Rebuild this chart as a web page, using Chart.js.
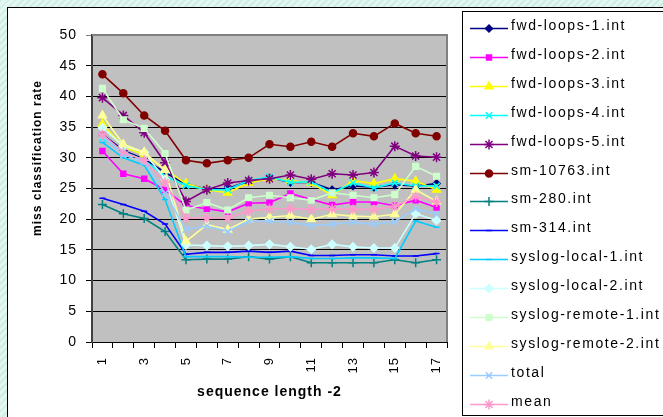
<!DOCTYPE html>
<html lang="en">
<head>
<meta charset="UTF-8">
<title>miss classification rate</title>
<script src="https://cdn.jsdelivr.net/npm/chart.js"></script>
<style>
  html, body { margin: 0; padding: 0; }
  body {
    width: 663px; height: 417px; overflow: hidden; position: relative;
    background: repeating-linear-gradient(135deg, #cdeee4 0 2px, #e3f6f1 2px 5px);
  }
  .panel { position: absolute; left: 7px; top: 7px; right: -3px; bottom: -3px; background: #fff; border: 1px solid #000; }
  #chart { position: absolute; left: 0; top: 0; }
</style>
</head>
<body>
<div class="panel"></div>
<canvas id="chart" width="663" height="417"></canvas>

<script>
// sequence length -2
const labels = ['1','2','3','4','5','6','7','8','9','10','11','12','13','14','15','16','17'];

// miss classification rate per trace
const fwdLoops1 = [33.8, 31.2, 29.8, 27.6, 25.7, 24.9, 25.0, 26.2, 26.8, 26.0, 26.0, 24.8, 25.4, 25.2, 25.6, 25.4, 25.8];
const fwdLoops2 = [31.1, 27.4, 26.6, 24.8, 22.2, 21.7, 21.2, 22.6, 22.7, 24.2, 23.2, 22.3, 22.8, 22.8, 22.2, 23.1, 21.9];
const fwdLoops3 = [35.5, 31.8, 30.5, 28.1, 25.8, 24.8, 24.3, 25.9, 26.6, 26.3, 25.9, 23.9, 26.3, 25.8, 26.6, 26.2, 24.8];
const fwdLoops4 = [33.2, 31.0, 29.6, 27.0, 25.5, 24.8, 24.8, 26.3, 26.9, 26.0, 26.1, 24.3, 25.9, 25.1, 25.9, 25.4, 25.4];
const fwdLoops5 = [39.8, 36.9, 34.1, 29.2, 22.9, 24.8, 25.9, 26.3, 26.6, 27.2, 26.5, 27.4, 27.2, 27.6, 31.9, 30.3, 30.1];
const sm10763   = [43.6, 40.5, 36.9, 34.4, 29.6, 29.1, 29.6, 30.0, 32.2, 31.8, 32.6, 31.8, 34.0, 33.5, 35.6, 34.0, 33.5];
const sm280     = [22.4, 20.9, 20.1, 18.0, 13.4, 13.5, 13.5, 13.9, 13.5, 13.9, 12.9, 12.9, 12.9, 12.9, 13.4, 12.9, 13.4];
const sm314     = [23.4, 22.4, 21.3, 19.2, 14.3, 14.6, 14.6, 14.8, 14.6, 14.8, 14.1, 14.1, 14.2, 14.2, 14.0, 14.0, 14.4];
const sysLocal1 = [32.5, 30.0, 28.8, 23.2, 13.9, 13.9, 13.9, 13.8, 13.8, 13.9, 13.6, 13.6, 13.7, 13.7, 13.6, 19.7, 18.7];
const sysLocal2 = [34.9, 31.9, 30.9, 26.5, 15.8, 15.7, 15.6, 15.7, 15.9, 15.5, 15.1, 15.9, 15.5, 15.3, 15.3, 20.9, 19.8];
const sysRemote1 = [41.3, 36.2, 34.8, 30.7, 21.5, 22.7, 21.5, 23.5, 23.9, 23.5, 23.1, 24.3, 23.9, 23.5, 24.0, 28.6, 27.0];
const sysRemote2 = [36.9, 32.2, 30.9, 28.0, 16.4, 19.1, 18.3, 20.0, 20.3, 20.6, 20.0, 20.8, 20.5, 20.4, 20.8, 24.8, 22.9];
const total     = [33.5, 30.5, 29.3, 24.2, 18.3, 18.9, 18.0, 19.7, 19.7, 19.5, 19.0, 19.2, 19.5, 19.2, 19.6, 21.7, 20.8];
const mean      = [33.8, 30.9, 29.6, 26.0, 20.2, 20.2, 20.2, 21.3, 21.7, 21.7, 21.6, 21.7, 21.6, 21.6, 22.1, 23.7, 22.8];

// excel style colours + markers
const series = [
  { label: 'fwd-loops-1.int',      data: fwdLoops1,  color: '#000080', style: 'rectRot',  r: 3.5 },
  { label: 'fwd-loops-2.int',      data: fwdLoops2,  color: '#FF00FF', style: 'rect',     r: 3.5 },
  { label: 'fwd-loops-3.int',      data: fwdLoops3,  color: '#FFFF00', style: 'triangle', r: 4.5 },
  { label: 'fwd-loops-4.int',      data: fwdLoops4,  color: '#00FFFF', style: 'crossRot', r: 4.5 },
  { label: 'fwd-loops-5.int',      data: fwdLoops5,  color: '#800080', style: 'star',     r: 5 },
  { label: 'sm-10763.int',         data: sm10763,    color: '#800000', style: 'circle',   r: 3.5 },
  { label: 'sm-280.int',           data: sm280,      color: '#008080', style: 'cross',    r: 4.5 },
  { label: 'sm-314.int',           data: sm314,      color: '#0000FF', style: 'line',     r: 3 },
  { label: 'syslog-local-1.int',   data: sysLocal1,  color: '#00CCFF', style: 'line',     r: 3 },
  { label: 'syslog-local-2.int',   data: sysLocal2,  color: '#CCFFFF', style: 'rectRot',  r: 4 },
  { label: 'syslog-remote-1.int',  data: sysRemote1, color: '#CCFFCC', style: 'rect',     r: 4 },
  { label: 'syslog-remote-2.int',  data: sysRemote2, color: '#FFFF99', style: 'triangle', r: 4.5 },
  { label: 'total',                data: total,      color: '#99CCFF', style: 'crossRot', r: 4.5 },
  { label: 'mean',                 data: mean,       color: '#FF99CC', style: 'star',     r: 5 }
];

const FONT = '"Liberation Sans", Arial, sans-serif';
Chart.defaults.font.family = FONT;
Chart.defaults.color = '#000';

const datasets = series.map(function (s, i) {
  return {
    label: s.label,
    data: s.data,
    borderColor: s.color,
    backgroundColor: s.color,
    pointBackgroundColor: s.color,
    pointBorderColor: s.color,
    pointStyle: s.style,
    pointRadius: s.r,
    pointHoverRadius: s.r,
    pointBorderWidth: 1.5,
    borderWidth: 1.6,
    tension: 0,
    fill: false,
    order: -i   // later series on top, like excel
  };
});

// grey plot area + border
const plotBg = {
  id: 'plotBg',
  beforeUpdate(chart) { chart.ctx.letterSpacing = '1px'; },
  beforeDraw(chart) {
    const a = chart.chartArea, ctx = chart.ctx;
    ctx.save();
    ctx.fillStyle = '#C0C0C0';
    ctx.fillRect(a.left, a.top, a.right - a.left, a.bottom - a.top);
    ctx.restore();
  },
  beforeDatasetsDraw(chart) {
    const a = chart.chartArea, ctx = chart.ctx;
    ctx.save();
    ctx.strokeStyle = '#808080';
    ctx.lineWidth = 2;
    ctx.beginPath();
    ctx.moveTo(a.left, a.top);
    ctx.lineTo(a.right, a.top);
    ctx.lineTo(a.right, a.bottom);
    ctx.stroke();
    ctx.restore();
  }
};

// y title + legend
const extras = {
  id: 'extras',
  afterDraw(chart) {
    const ctx = chart.ctx;
    ctx.save();
    ctx.letterSpacing = '1px';
    ctx.fillStyle = '#000';
    ctx.font = 'bold 12px ' + FONT;
    ctx.textAlign = 'center';
    ctx.textBaseline = 'middle';
    ctx.translate(38, 158);
    ctx.rotate(-Math.PI / 2);
    ctx.fillText('miss classification rate', 0, 0);
    ctx.restore();

    ctx.save();
    ctx.strokeStyle = '#000';
    ctx.lineWidth = 1;
    ctx.strokeRect(462.5, 11.5, 230, 404);
    chart.data.datasets.forEach(function (ds, i) {
      const y = Math.round(28 + i * 28.9) + 0.5;
      ctx.strokeStyle = ds.borderColor;
      ctx.fillStyle = ds.borderColor;
      ctx.lineWidth = 1.6;
      ctx.beginPath();
      ctx.moveTo(470, y);
      ctx.lineTo(508, y);
      ctx.stroke();
      ctx.lineWidth = 1.5;
      Chart.helpers.drawPoint(ctx, { pointStyle: ds.pointStyle, radius: ds.pointRadius, borderWidth: 1.5, rotation: 0 }, 489, y);
      ctx.fillStyle = '#000';
      ctx.font = '14px ' + FONT;
      ctx.letterSpacing = '1.6px';
      ctx.textAlign = 'left';
      ctx.textBaseline = 'middle';
      ctx.fillText(ds.label, 511, y - 2);
    });
    ctx.restore();
  }
};

const myChart = new Chart(document.getElementById('chart'), {
  type: 'line',
  data: { labels: labels, datasets: datasets },
  plugins: [plotBg, extras],
  options: {
    responsive: false,
    animation: false,
    devicePixelRatio: 1,
    layout: { padding: { left: 0, top: 35, right: 216, bottom: 0 } },
    plugins: { legend: { display: false }, tooltip: { enabled: false } },
    scales: {
      x: {
        offset: true,
        afterFit: function (scale) { scale.height = 75; },
        grid: { display: true, drawOnChartArea: false, offset: true, tickLength: 6, color: '#000' },
        border: { display: true, color: '#000', width: 1 },
        ticks: {
          autoSkip: false,
          minRotation: 90,
          maxRotation: 90,
          padding: 9,
          font: { size: 13 },
          callback: function (v, i) { return i % 2 === 0 ? labels[i] : ''; }
        },
        title: {
          display: true,
          text: 'sequence length -2',
          font: { size: 14, weight: 'bold' },
          padding: { top: 0, bottom: 16 }
        }
      },
      y: {
        min: 0,
        max: 50,
        afterFit: function (scale) { scale.width = 92; },
        grid: {
          tickLength: 6,
          color: function (c) { return c.tick && c.tick.value === 50 ? '#808080' : '#000'; },
          lineWidth: 1
        },
        border: { display: true, color: '#404040', width: 2 },
        ticks: { stepSize: 5, padding: 9, font: { size: 14 } }
      }
    }
  }
});
</script>
</body>
</html>
